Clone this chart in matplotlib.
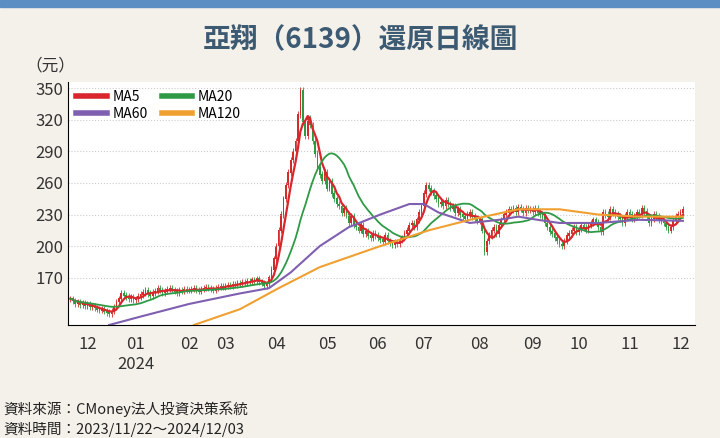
import numpy as np
import pandas as pd
import matplotlib
matplotlib.use("Agg")
import matplotlib.pyplot as plt

plt.rcParams["font.family"] = ["Noto Sans CJK JP", "Noto Sans CJK TC", "Noto Sans CJK SC", "DejaVu Sans"]

closes = [150,148,145,147,144,146,143,
 145,142,143,141,140,139,140,138,137,136,138,142,147,150,155,153,152,150,151,149,
 150,152,154,156,158,155,153,156,157,160,158,156,157,159,160,158,157,156,158,157,159,158,
 158,159,160,158,157,159,160,161,160,159,158,160,161,162,161,
 162,163,162,164,163,165,164,166,165,167,166,168,167,169,166,165,162,164,170,178,188,
 200,215,230,245,258,270,282,290,300,325,348,318,305,322,315,300,288,275,268,262,270,
 255,262,250,245,240,238,232,236,230,222,228,220,218,215,220,212,214,210,208,212,210,
 208,206,204,210,205,203,201,204,202,206,208,212,215,220,222,218,225,232,238,
 250,258,255,252,248,245,240,242,238,244,240,236,238,232,235,230,228,226,230,232,228,226,224,
 225,215,195,205,210,215,218,212,220,225,230,232,235,234,236,233,237,235,232,236,234,235,
 233,236,232,230,228,222,218,214,212,208,205,202,200,205,210,212,215,218,214,
 216,220,218,215,220,222,225,223,218,214,232,230,228,235,232,230,228,226,222,228,232,
 230,226,228,232,230,236,233,228,222,226,230,228,225,224,222,218,215,218,224,228,230,
 232,235]
ma60_idx = [16,29,49,70,82,91,103,115,128,140,146,152,165,177,185,193,202,218,235,253]
ma60_val = [125,133,145,155,160,175,200,218,230,240,240,232,222,225,228,225,222,222,225,224]
ma120_idx = [51,70,86,103,128,148,165,185,202,218,235,253]
ma120_val = [125,140,160,180,200,215,225,235,235,230,228,228]
month_labels = ["12","01\n2024","02","03","04","05","06","07","08","09","10","11","12"]
month_start_idx = [7,27,49,64,85,106,127,146,169,191,210,231,252]
yticks = [170,200,230,260,290,320,350]

c = np.array(closes, float)
o = np.concatenate([[c[0]], c[:-1]])
hi = np.maximum(o, c) + 3
lo = np.minimum(o, c) - 3
x = np.arange(len(c))
s = pd.Series(c)
ma5 = s.rolling(5, min_periods=1).mean()
ma20 = s.rolling(20, min_periods=1).mean()

fig = plt.figure(figsize=(7.2, 4.38), dpi=100)
fig.patch.set_facecolor("#f4f1ea")
fig.add_artist(plt.Rectangle((0, 0.985), 1, 0.015, transform=fig.transFigure, color="#5b8fc4"))
ax = fig.add_axes([68/720, 1-325/438, 627/720, 243/438])
ax.set_facecolor("white")
up = c >= o
cols = np.where(up, "#d42a2a", "#2e9a3e")
ax.vlines(x, lo, hi, colors=cols, lw=0.6)
ax.bar(x, np.abs(c-o)+0.6, bottom=np.minimum(o, c)-0.3, width=0.7, color=cols)
h5, = ax.plot(x, ma5, color="#d9262c", lw=1.6, label="MA5")
h20, = ax.plot(x, ma20, color="#2f9a45", lw=1.3, label="MA20")
h60, = ax.plot(ma60_idx, ma60_val, color="#7f5fb0", lw=1.5, label="MA60")
h120, = ax.plot(ma120_idx, ma120_val, color="#f0a030", lw=1.5, label="MA120")
ax.set_xlim(-1, len(c)+4)
ax.set_ylim(125, 356)
ax.set_yticks(yticks)
ax.set_xticks(month_start_idx)
ax.set_xticklabels(month_labels)
ax.grid(axis="y", ls=":", color="#cccccc", lw=0.8)
for sp in ["top", "right"]:
    ax.spines[sp].set_visible(False)
ax.tick_params(length=0, labelsize=12, colors="#333333")
ax.tick_params(axis="x", pad=8)
leg = ax.legend([h5, h60, h20, h120], ["MA5", "MA60", "MA20", "MA120"], loc="upper left", ncol=2,
          frameon=False, fontsize=10, handlelength=2.2,
          columnspacing=1.0, handletextpad=0.4, borderaxespad=0.2, labelspacing=0.2)
for l in leg.get_lines():
    l.set_linewidth(4)
fig.text(0.5, 0.89, "亞翔（6139）還原日線圖", ha="center", fontsize=20, fontweight="bold", color="#3d5a73")
fig.text(0.035, 0.84, "（元）", fontsize=12, color="#333333")
fig.text(0.005, 0.055, "資料來源：CMoney法人投資決策系統", fontsize=10.5, color="#222222")
fig.text(0.005, 0.01, "資料時間：2023/11/22～2024/12/03", fontsize=10.5, color="#222222")
fig.savefig("out.png", dpi=100, facecolor=fig.get_facecolor())
